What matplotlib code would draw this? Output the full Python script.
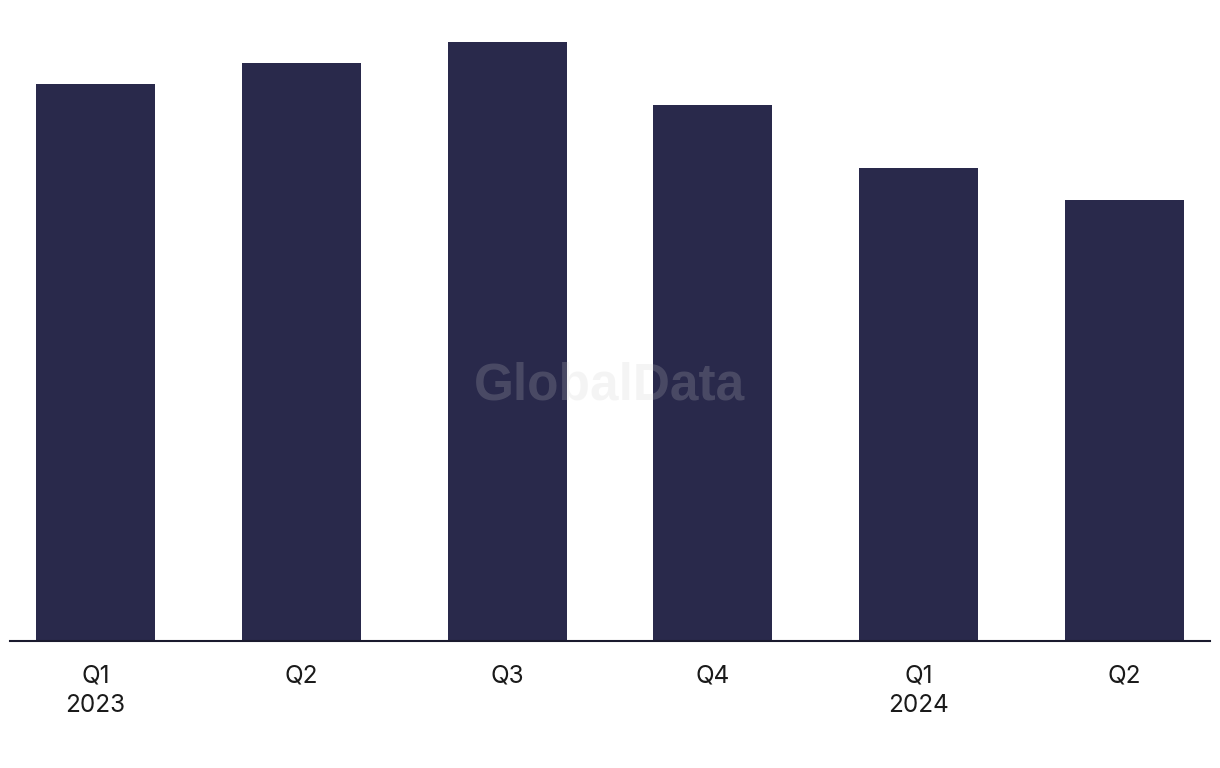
import matplotlib as mpl

mpl.use("Agg")
import matplotlib.pyplot as plt

# quarterly values (arbitrary units - no y axis shown)
quarters = ["Q1\n2023", "Q2", "Q3", "Q4", "Q1\n2024", "Q2"]
values = [557, 578, 599, 536, 473, 441]

bar_color = "#29294b"

plt.rcParams["font.family"] = ["Inter", "DejaVu Sans"]

fig = plt.figure(figsize=(12.2, 7.68), dpi=100)
ax = fig.add_axes([10 / 1220, 127 / 768, 1200 / 1220, 641 / 768])

x = range(len(values))
ax.bar(x, values, width=0.578, color=bar_color, zorder=2)

ax.set_xlim(-0.4155, 5.4155)
ax.set_ylim(0, 641)

for side in ["top", "right", "left"]:
    ax.spines[side].set_visible(False)
ax.spines["bottom"].set_color("#1a1a2e")
ax.spines["bottom"].set_linewidth(1.5)
ax.spines["bottom"].set_zorder(3)

ax.set_yticks([])
ax.set_xticks(list(x))
ax.set_xticklabels(quarters, fontsize=17.5, color="#1a1a1a", linespacing=1.35)
ax.tick_params(axis="x", length=0, pad=17)

# watermark
fig.text(610 / 1220, 1 - 386 / 768, "GlobalData", fontsize=37, fontweight="bold",
         family=["Liberation Sans", "DejaVu Sans"],
         color=(0.8, 0.8, 0.8), alpha=0.2, ha="center", va="center", zorder=5)

fig.savefig("out.png", dpi=100)
